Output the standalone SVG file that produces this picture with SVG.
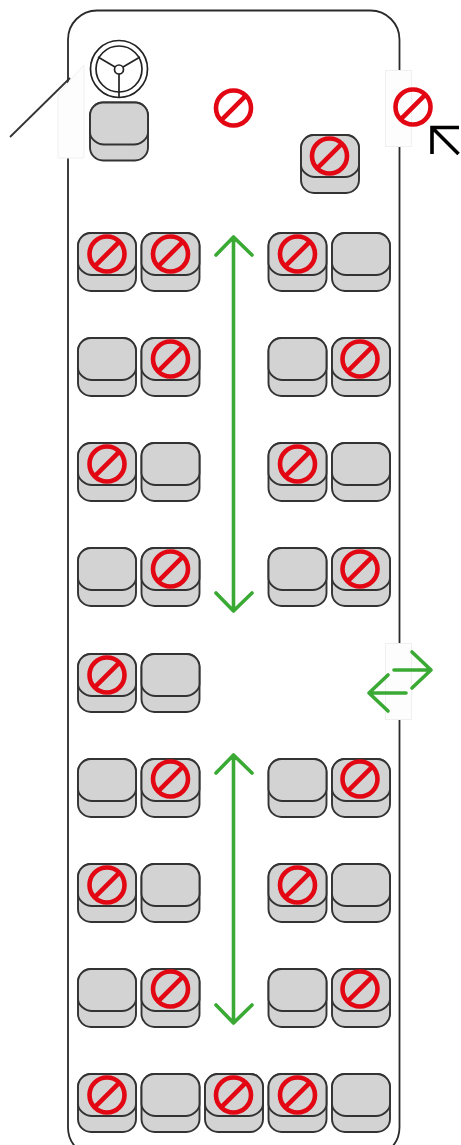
<svg xmlns="http://www.w3.org/2000/svg" width="461" height="1145" viewBox="0 0 461 1145">
<style>
.s{fill:#d3d3d3;stroke:#333;stroke-width:1.9}
.no{fill:none;stroke:#e30613;stroke-width:4.6}
.g{fill:none;stroke:#3aaa35;stroke-width:3.6;stroke-linecap:round;stroke-linejoin:round}
.d{fill:#fdfdfd;stroke:#f0f0f0;stroke-width:1}
.w{fill:none;stroke:#222;stroke-width:1.7}
</style>
<defs>
<g id="seat"><rect class="s" x="0" y="0" width="58" height="58" rx="13"/><path class="s" d="M0 30V13A13 13 0 0 1 13 0H45A13 13 0 0 1 58 13V30C58 36 51 42 44 42H14C7 42 0 36 0 30Z"/></g>
<g id="no"><circle class="no" cx="0" cy="0" r="17.500"/><line class="no" x1="-12.400" y1="12.400" x2="12.400" y2="-12.400"/></g>
</defs>
<rect width="461" height="1145" fill="#fff"/>
<rect id="body" x="68" y="10.500" width="331.500" height="1146" rx="29" fill="none" stroke="#2a2a2a" stroke-width="1.8"/>
<g id="door-front"><path class="d" d="M58 94L84 65V158H58Z"/><line x1="10" y1="137" x2="70" y2="78" stroke="#333" stroke-width="1.8"/></g>
<g id="door-right-top"><rect class="d" x="385.500" y="70.500" width="26" height="76"/></g>
<g id="door-right-mid"><rect class="d" x="385.500" y="643.500" width="26" height="76"/></g>
<g id="wheel"><circle class="w" cx="119" cy="69" r="28.500"/><circle class="w" cx="119" cy="69" r="23"/><circle class="w" cx="119" cy="69.500" r="4.500"/><path class="w" d="M119 74V97M115 67L98 57M123 67L140 57"/></g>
<g id="driver"><use href="#seat" x="90" y="102.500"/></g>
<g id="sign-front"><use href="#no" x="233.500" y="108"/></g>
<g id="sign-door"><use href="#no" x="413" y="107"/></g>
<g id="conductor"><use href="#seat" x="301" y="135"/><use href="#no" x="329.500" y="156"/></g>
<g id="row1"><use href="#seat" x="78" y="233"/><use href="#no" x="107" y="254"/><use href="#seat" x="141.500" y="233"/><use href="#no" x="170.500" y="254"/><use href="#seat" x="268.500" y="233"/><use href="#no" x="297.500" y="254"/><use href="#seat" x="332" y="233"/></g>
<g id="row2"><use href="#seat" x="78" y="338"/><use href="#seat" x="141.500" y="338"/><use href="#no" x="170.500" y="359"/><use href="#seat" x="268.500" y="338"/><use href="#seat" x="332" y="338"/><use href="#no" x="360" y="359"/></g>
<g id="row3"><use href="#seat" x="78" y="443"/><use href="#no" x="107" y="464"/><use href="#seat" x="141.500" y="443"/><use href="#seat" x="268.500" y="443"/><use href="#no" x="297.500" y="464"/><use href="#seat" x="332" y="443"/></g>
<g id="row4"><use href="#seat" x="78" y="548"/><use href="#seat" x="141.500" y="548"/><use href="#no" x="170.500" y="569"/><use href="#seat" x="268.500" y="548"/><use href="#seat" x="332" y="548"/><use href="#no" x="360" y="569"/></g>
<g id="row5"><use href="#seat" x="78" y="654"/><use href="#no" x="107" y="675"/><use href="#seat" x="141.500" y="654"/></g>
<g id="row6"><use href="#seat" x="78" y="759"/><use href="#seat" x="141.500" y="759"/><use href="#no" x="170.500" y="779"/><use href="#seat" x="268.500" y="759"/><use href="#seat" x="332" y="759"/><use href="#no" x="360" y="779"/></g>
<g id="row7"><use href="#seat" x="78" y="864"/><use href="#no" x="107" y="885"/><use href="#seat" x="141.500" y="864"/><use href="#seat" x="268.500" y="864"/><use href="#no" x="297.500" y="885"/><use href="#seat" x="332" y="864"/></g>
<g id="row8"><use href="#seat" x="78" y="969"/><use href="#seat" x="141.500" y="969"/><use href="#no" x="170.500" y="989"/><use href="#seat" x="268.500" y="969"/><use href="#seat" x="332" y="969"/><use href="#no" x="360" y="989"/></g>
<g id="row9"><use href="#seat" x="78" y="1074"/><use href="#no" x="107" y="1095"/><use href="#seat" x="141.500" y="1074"/><use href="#seat" x="205" y="1074"/><use href="#no" x="233.500" y="1095"/><use href="#seat" x="268.500" y="1074"/><use href="#no" x="297.500" y="1095"/><use href="#seat" x="332" y="1074"/></g>
<g id="connectors">
<path class="g" d="M233.500 237V611M216 255L233.500 237L252 255M216 593L233.500 611L252 593"/>
<path class="g" d="M233.500 755V1023M216 773L233.500 755L252 773M216 1005L233.500 1023L252 1005"/>
<path class="g" d="M394 670H431M412 652L431 670L412 688"/>
<path class="g" d="M406 693H369M388 675L369 693L388 711"/>
<path d="M459 127.500H432V154M432 127.500L458.500 154" fill="none" stroke="#000" stroke-width="3.600"/>
</g>
</svg>
